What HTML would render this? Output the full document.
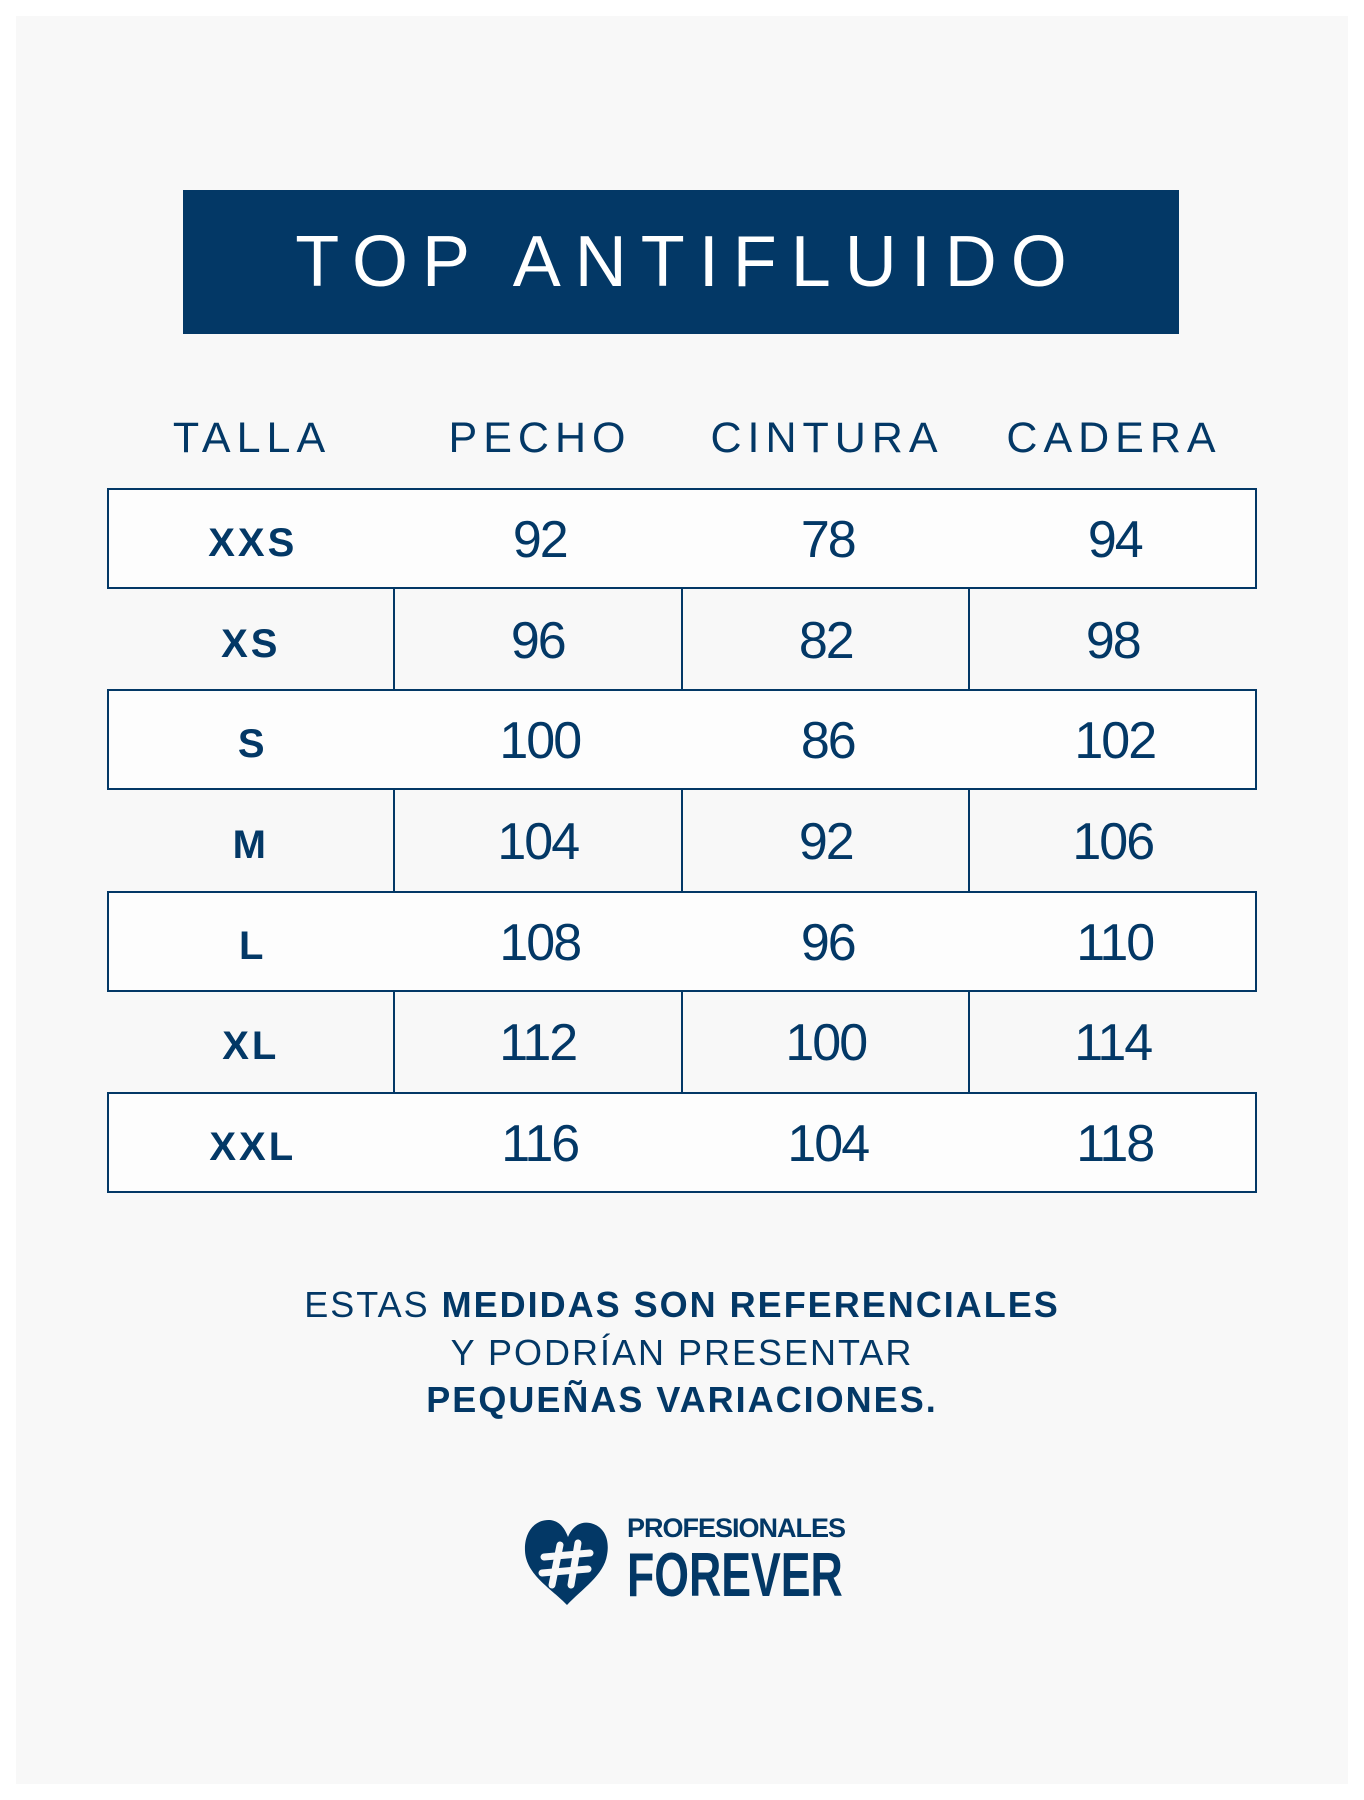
<!DOCTYPE html>
<html><head><meta charset="utf-8"><style>
*{margin:0;padding:0;box-sizing:border-box}
body{width:1364px;height:1800px;background:#fff;position:relative;font-family:"Liberation Sans",sans-serif;color:#033866;overflow:hidden}
#panel{position:absolute;left:16px;top:16px;width:1332px;height:1768px;background:#f8f8f8}
.abs{position:absolute}
#title{left:183px;top:190px;width:996px;height:144px;background:#033866;color:#fff;font-size:72px;letter-spacing:14px;text-align:center;line-height:144px;padding-left:14px}
.hd{top:418px;font-size:43px;letter-spacing:6px;width:300px;text-align:center;line-height:40px}
.row{position:absolute;left:107px;width:1150px;height:101px}
.box{background:#fdfdfd;border:2px solid #033866}
.cell{position:absolute;top:0;height:100%;width:287.5px;display:flex;align-items:center;justify-content:center}
.sz{font-weight:bold;font-size:40px;letter-spacing:3px;padding-top:9px}
.num{font-size:52px;letter-spacing:-2px;padding-top:3px}
.vd{position:absolute;top:0;height:100%;width:2px;background:#033866}
.ft{left:0;width:1364px;text-align:center;font-size:36px;letter-spacing:2px;line-height:40px}
.ft b{font-weight:bold}
</style></head><body>
<div id="panel"></div>
<div class="abs" id="title">TOP ANTIFLUIDO</div>
<div class="abs hd" style="left:102px">TALLA</div>
<div class="abs hd" style="left:390px">PECHO</div>
<div class="abs hd" style="left:677px">CINTURA</div>
<div class="abs hd" style="left:964px">CADERA</div>

<div class="row box" style="top:488px"><div class="cell sz" style="left:0">XXS</div><div class="cell num" style="left:287px">92</div><div class="cell num" style="left:575px">78</div><div class="cell num" style="left:862px">94</div></div>
<div class="row" style="top:589px"><div class="vd" style="left:286px"></div><div class="vd" style="left:574px"></div><div class="vd" style="left:861px"></div><div class="cell sz" style="left:0">XS</div><div class="cell num" style="left:287px">96</div><div class="cell num" style="left:575px">82</div><div class="cell num" style="left:862px">98</div></div>
<div class="row box" style="top:689px"><div class="cell sz" style="left:0">S</div><div class="cell num" style="left:287px">100</div><div class="cell num" style="left:575px">86</div><div class="cell num" style="left:862px">102</div></div>
<div class="row" style="top:790px"><div class="vd" style="left:286px"></div><div class="vd" style="left:574px"></div><div class="vd" style="left:861px"></div><div class="cell sz" style="left:0">M</div><div class="cell num" style="left:287px">104</div><div class="cell num" style="left:575px">92</div><div class="cell num" style="left:862px">106</div></div>
<div class="row box" style="top:891px"><div class="cell sz" style="left:0">L</div><div class="cell num" style="left:287px">108</div><div class="cell num" style="left:575px">96</div><div class="cell num" style="left:862px">110</div></div>
<div class="row" style="top:991px"><div class="vd" style="left:286px"></div><div class="vd" style="left:574px"></div><div class="vd" style="left:861px"></div><div class="cell sz" style="left:0">XL</div><div class="cell num" style="left:287px">112</div><div class="cell num" style="left:575px">100</div><div class="cell num" style="left:862px">114</div></div>
<div class="row box" style="top:1092px"><div class="cell sz" style="left:0">XXL</div><div class="cell num" style="left:287px">116</div><div class="cell num" style="left:575px">104</div><div class="cell num" style="left:862px">118</div></div>

<div class="abs ft" style="top:1285px">ESTAS <b>MEDIDAS SON REFERENCIALES</b></div>
<div class="abs ft" style="top:1333px">Y PODRÍAN PRESENTAR</div>
<div class="abs ft" style="top:1380px"><b>PEQUEÑAS VARIACIONES.</b></div>

<svg class="abs" style="left:522px;top:1515px" width="90" height="92" viewBox="0 0 90 92">
<path d="M45 90 C30 74 4 60 3 36 C2 16 14 4 28 5 C38 6 43 14 46 22 C50 12 58 6 68 8 C82 11 88 24 85 40 C82 60 60 74 45 90Z" fill="#033866"/>
<g stroke="#f8f8f8" stroke-width="7" stroke-linecap="round" fill="none">
<path d="M38 30 L30 70"/><path d="M56 28 L49 70"/><path d="M22 42 L68 38"/><path d="M20 58 L66 54"/></g>
</svg>
<div class="abs" style="left:627px;top:1513px;font-weight:bold;font-size:27px;letter-spacing:-1px;line-height:30px">PROFESIONALES</div>
<div class="abs" style="left:627px;top:1544px;font-weight:bold;font-size:62px;letter-spacing:0px;line-height:64px;transform:scaleX(0.72);transform-origin:left">FOREVER</div>
</body></html>
